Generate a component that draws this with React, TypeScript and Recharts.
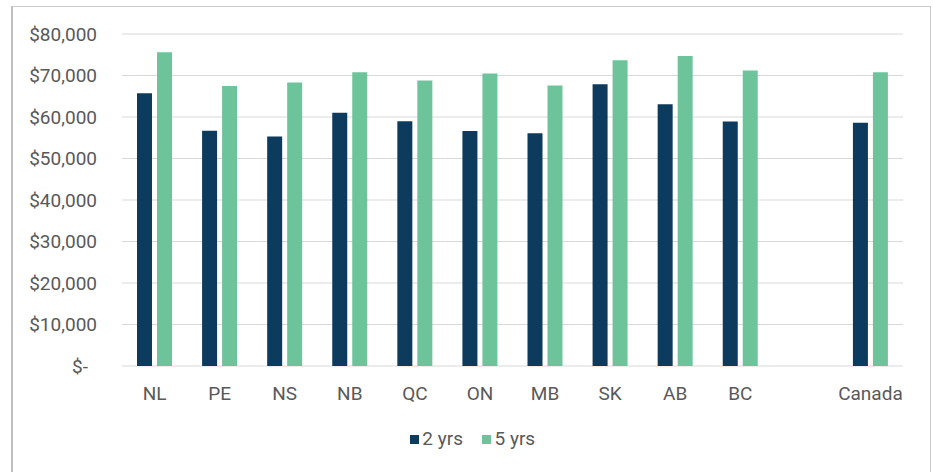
import React from "react";
import { BarChart, Bar, XAxis, YAxis, CartesianGrid, Legend } from "recharts";

// Provinces plus the national figure; the blank slot separates Canada from the provinces.
const regions = ["NL", "PE", "NS", "NB", "QC", "ON", "MB", "SK", "AB", "BC", "", "Canada"];
const twoYears = [65700, 56700, 55300, 61000, 59000, 56600, 56100, 67900, 63100, 58900, null, 58600];
const fiveYears = [75600, 67500, 68300, 70800, 68800, 70500, 67600, 73700, 74700, 71200, null, 70800];
const yTicks = [0, 10000, 20000, 30000, 40000, 50000, 60000, 70000, 80000];

const NAVY = "#0c3b5e";
const GREEN = "#6dc49b";
const TEXT = "#595959";
const FONT = "Roboto, 'Noto Sans', sans-serif";
const FS = 19;

const data = regions.map((region, i) => ({
  region,
  two: twoYears[i],
  five: fiveYears[i],
}));

const money = (v: number) => (v === 0 ? "$-" : "$" + v.toLocaleString("en-US"));

const YTick = (props: any) => {
  const { x, y, payload } = props;
  const v = payload.value as number;
  // accounting-style zero keeps a trailing pad, so it sits a little left
  const shift = v === 0 ? -9 : 0;
  return (
    <text
      x={x + shift}
      y={y}
      textAnchor="end"
      dominantBaseline="central"
      fill={TEXT}
      fontSize={FS}
      fontFamily={FONT}
    >
      {money(v)}
    </text>
  );
};

const LegendContent = (props: any) => {
  const items = props.payload || [];
  return (
    <div
      style={{
        display: "flex",
        justifyContent: "center",
        alignItems: "center",
        height: 30,
        paddingLeft: 12,
        fontFamily: FONT,
        fontSize: FS,
        color: TEXT,
      }}
    >
      {items.map((it: any, i: number) => (
        <div key={i} style={{ display: "flex", alignItems: "center", marginRight: i < items.length - 1 ? 19 : 0 }}>
          <span style={{ width: 9, height: 9, background: it.color, display: "inline-block", marginRight: 3.5, marginTop: 2 }} />
          <span>{it.value}</span>
        </div>
      ))}
    </div>
  );
};

export default function App() {
  return (
    <div style={{ position: "absolute", left: 0, top: 0, width: 933, height: 472, overflow: "hidden", background: "#fff" }}>
      <div
        style={{
          position: "absolute",
          left: 11,
          top: 6,
          width: 917,
          height: 520,
          borderTop: "1px solid #c9c9c9",
          borderRight: "1px solid #c9c9c9",
          borderLeft: "2px solid #bfbfbf",
        }}
      />
      <div style={{ position: "absolute", left: 0, top: 0 }}>
        <BarChart
          width={933}
          height={472}
          data={data}
          margin={{ top: 34, right: 30, left: 0, bottom: 36 }}
          barSize={15}
          barGap={5}
        >
          <CartesianGrid vertical={false} stroke="#d9d9d9" strokeWidth={1.2} />
          <XAxis
            dataKey="region"
            axisLine={false}
            tickLine={false}
            height={40}
            tickSize={0}
            tickMargin={21}
            interval={0}
            tick={{ fill: TEXT, fontSize: FS, fontFamily: FONT }}
          />
          <YAxis
            width={122}
            domain={[0, 80000]}
            ticks={yTicks}
            axisLine={false}
            tickLine={false}
            tickSize={0}
            tickMargin={25}
            interval={0}
            tick={<YTick />}
          />
          <Legend
            verticalAlign="bottom"
            height={30}
            content={<LegendContent />}
            wrapperStyle={{ top: 423, left: 0, width: 933, bottom: "auto" }}
          />
          <Bar dataKey="two" name="2 yrs" fill={NAVY} isAnimationActive={false} />
          <Bar dataKey="five" name="5 yrs" fill={GREEN} isAnimationActive={false} />
        </BarChart>
      </div>
    </div>
  );
}
